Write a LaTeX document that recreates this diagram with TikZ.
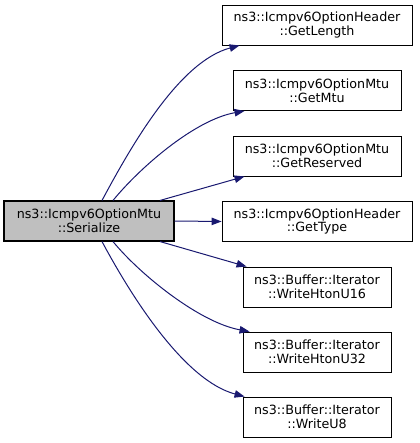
\documentclass[tikz,border=0pt]{standalone}
\usepackage{fontspec}
\setmainfont{DejaVu Sans}
\usetikzlibrary{arrows.meta}
\definecolor{edgeblue}{HTML}{191970}
\definecolor{maingray}{HTML}{BFBFBF}
\tikzset{
  box/.style={draw=black, line width=0.9pt, fill=white, inner sep=0pt, minimum height=40pt, align=center, font=\fontsize{12.7}{13.6}\selectfont},
  mainbox/.style={box, fill=maingray, line width=1.1pt},
  edge/.style={draw=edgeblue, line width=1pt, -{Triangle[length=10pt,width=7.5pt]}}
}
\begin{document}
\begin{tikzpicture}[x=1pt,y=-1pt]
\useasboundingbox (0,0) rectangle (419,443);
\node[mainbox, minimum width=170pt] (main) at (89,221) {ns3::Icmpv6OptionMtu\\::Serialize};
\node[box, minimum width=190pt] (n1) at (317,25) {ns3::Icmpv6OptionHeader\\::GetLength};
\node[box, minimum width=168pt] (n2) at (317,90.5) {ns3::Icmpv6OptionMtu\\::GetMtu};
\node[box, minimum width=168pt] (n3) at (317,156) {ns3::Icmpv6OptionMtu\\::GetReserved};
\node[box, minimum width=190pt] (n4) at (317,221.5) {ns3::Icmpv6OptionHeader\\::GetType};
\node[box, minimum width=148pt] (n5) at (317,287) {ns3::Buffer::Iterator\\::WriteHtonU16};
\node[box, minimum width=148pt] (n6) at (317,352) {ns3::Buffer::Iterator\\::WriteHtonU32};
\node[box, minimum width=148pt] (n7) at (317,417) {ns3::Buffer::Iterator\\::WriteU8};
\draw[edge] ([xshift=13pt]main.north) .. controls +(30,-56) and +(-60,16) .. ([xshift=18pt]n1.south west);
\draw[edge] ([xshift=24pt]main.north) .. controls +(27,-33) and +(-50,9) .. ([xshift=12pt]n2.south west);
\draw[edge] ([xshift=71pt]main.north) -- ([xshift=12pt]n3.south west);
\draw[edge] (main.east) -- (n4.west);
\draw[edge] ([xshift=71pt]main.south) -- ([xshift=4pt]n5.north west);
\draw[edge] ([xshift=24pt]main.south) .. controls +(27,33) and +(-50,-9) .. ([xshift=7pt]n6.north west);
\draw[edge] ([xshift=13pt]main.south) .. controls +(30,56) and +(-60,-16) .. ([xshift=2pt]n7.north west);
\end{tikzpicture}
\end{document}
